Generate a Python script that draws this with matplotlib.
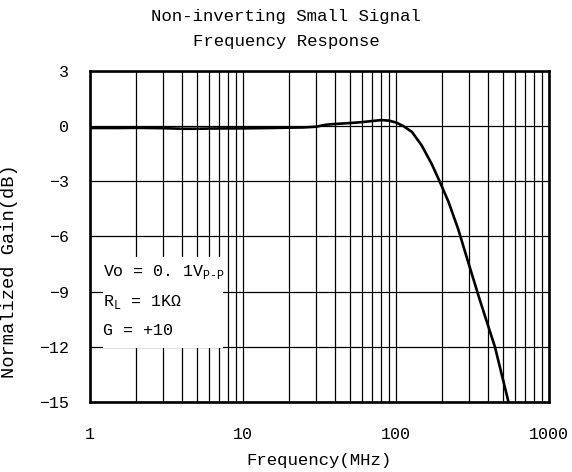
import numpy as np
import matplotlib
matplotlib.use('Agg')
import matplotlib.pyplot as plt
import matplotlib.patches as mpatch
from matplotlib.ticker import FixedLocator, NullFormatter

plt.rcParams['font.family'] = ['Liberation Mono', 'DejaVu Sans']
plt.rcParams['mathtext.fontset'] = 'custom'
plt.rcParams['mathtext.rm'] = 'Liberation Mono'

# Curve (MHz, dB)
freq = [1, 1.5, 2, 3, 4, 5, 6, 8, 10, 15, 20, 25, 30, 35, 40, 50, 60, 70,
        80, 90, 100, 112, 127, 147, 171, 194, 220, 255, 294, 353, 443, 540, 560]
gain = [-0.1, -0.1, -0.09, -0.11, -0.14, -0.14, -0.13, -0.12, -0.12, -0.1,
        -0.08, -0.07, -0.03, 0.08, 0.12, 0.17, 0.22, 0.28, 0.33, 0.3, 0.2, 0.0,
        -0.31, -1.04, -2.05, -3.05, -4.1, -5.6, -7.3, -9.45, -12.0, -14.9, -15.6]

xticks = [1, 10, 100, 1000]
xticklabels = ['1', '10', '100', '1000']
yticks = [3, 0, -3, -6, -9, -12, -15]
yticklabels = ['3', '0', '\u22123', '\u22126', '\u22129', '\u221212', '\u221215']
notes = [r'Vo = 0. 1V$_{\mathrm{P}\text{-}\mathrm{P}}$',
         r'R$_{\mathrm{L}}$ = 1K' + '\u03a9',
         'G = +10']

fig = plt.figure(figsize=(5.72, 4.72), dpi=100)
ax = fig.add_axes([90/572, 70/472, 459/572, 331/472])

ax.set_xscale('log')
ax.set_xlim(1, 1000)
ax.set_ylim(-15, 3)
ax.plot(freq, gain, color='black', lw=1.9, zorder=3, solid_capstyle='round')

minors = [m * 10**d for d in range(0, 3) for m in range(2, 10)]
ax.xaxis.set_major_locator(FixedLocator(xticks))
ax.xaxis.set_minor_locator(FixedLocator(minors))
ax.xaxis.set_minor_formatter(NullFormatter())
ax.set_xticklabels(xticklabels)
ax.set_yticks(yticks)
ax.set_yticklabels(yticklabels)
ax.tick_params(which='both', length=0, labelsize=12)
ax.tick_params(axis='x', pad=18)
ax.tick_params(axis='y', pad=15)
ax.grid(which='both', axis='x', color='black', lw=0.9)
ax.grid(which='major', axis='y', color='black', lw=0.9)
ax.set_axisbelow(True)
for s in ax.spines.values():
    s.set_linewidth(1.9)

# white note box
ax.add_patch(mpatch.Rectangle((1.22, -12.06), 7.4 - 1.22, 4.95,
                              facecolor='white', edgecolor='none', zorder=1.5))
for txt, yy in zip(notes, [-7.92, -9.57, -11.09]):
    ax.text(1.22, yy, txt, fontsize=12, va='center', ha='left', zorder=4)

ax.set_xlabel('Frequency(MHz)', fontsize=12.5)
ax.xaxis.set_label_coords(0.5, -0.155)
ax.set_ylabel('Normalized Gain(dB)', fontsize=13.5)
ax.yaxis.set_label_coords(-0.157, 0.396)

fig.text(0.5, 1 - 9/472, 'Non-inverting Small Signal\nFrequency Response',
         ha='center', va='top', fontsize=12.5, linespacing=1.85)

fig.savefig('out.png', dpi=100)
